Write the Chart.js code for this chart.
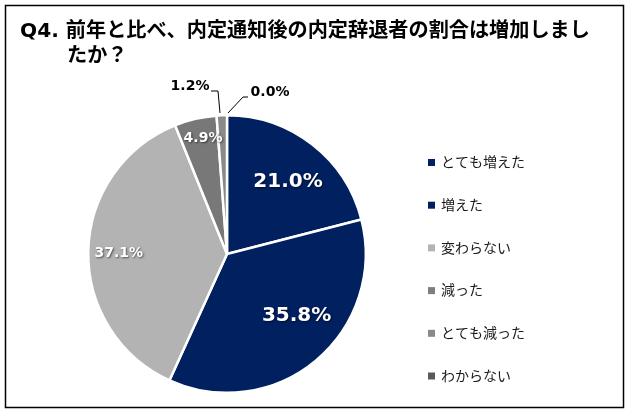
<!DOCTYPE html>
<html>
<head>
<meta charset="utf-8">
<script src="https://cdn.jsdelivr.net/npm/chart.js@4"></script>
<style>
  html, body { margin: 0; padding: 0; background: #fff; }
  canvas { display: block; }
</style>
</head>
<body>
<canvas id="pieChart" width="631" height="416"></canvas>
<script>
const titleLines = ['Q4. 前年と比べ、内定通知後の内定辞退者の割合は増加しまし', 'たか？'];
const categories = ['とても増えた', '増えた', '変わらない', '減った', 'とても減った', 'わからない'];
const shares = [21.0, 35.8, 37.1, 4.9, 1.2, 0.0];
const sliceColors = ['#002060', '#002060', '#b3b3b3', '#787878', '#8a8a8a', '#595959'];
const legendColors = ['#002060', '#002060', '#b3b3b3', '#7f7f7f', '#8a8a8a', '#595959'];

const latin = '"DejaVu Sans", "Noto Sans CJK JP", sans-serif';
const jp = '"Noto Sans CJK JP", sans-serif';

// label placement per slice: inside (fraction of radius + angle tweak) or outside with leader line
const labelStyle = [
  { inside: true, r: 0.68, da: 2.5, size: 20 },
  { inside: true, r: 0.67, da: -8.5, size: 20 },
  { inside: true, r: 0.78, da: -0.7, size: 14 },
  { inside: true, r: 0.85, da: 1.4, size: 14 },
  { inside: false, tx: -37, ty: -168, line: [[211, 91], [218, 91], [220, 113]] },
  { inside: false, tx: 43, ty: -162, line: [[248, 97], [243, 97], [228, 113]] }
];

const decorations = {
  id: 'decorations',
  afterDraw(chart) {
    const ctx = chart.ctx;
    ctx.save();
    // frame
    ctx.strokeStyle = '#000';
    ctx.lineWidth = 1.5;
    ctx.strokeRect(5.5, 5.5, 618, 402);

    // title, sized so the first line runs from x=20 to x=590
    ctx.fillStyle = '#000';
    ctx.textBaseline = 'middle';
    ctx.textAlign = 'left';
    ctx.font = 'bold 20px ' + latin;
    let size = 20 * 570 / ctx.measureText(titleLines[0]).width;
    ctx.font = 'bold ' + size.toFixed(2) + 'px ' + latin;
    ctx.fillText(titleLines[0], 20, 32);
    ctx.fillText(titleLines[1], 67, 57);

    // data labels
    const meta = chart.getDatasetMeta(0);
    meta.data.forEach((arc, i) => {
      const st = labelStyle[i];
      const text = shares[i].toFixed(1) + '%';
      ctx.textAlign = 'center';
      ctx.textBaseline = 'middle';
      if (st.inside) {
        const mid = (arc.startAngle + arc.endAngle) / 2 + st.da * Math.PI / 180;
        const rr = arc.outerRadius * st.r;
        const x = arc.x + Math.cos(mid) * rr;
        const y = arc.y + Math.sin(mid) * rr;
        ctx.font = 'bold ' + st.size + 'px ' + latin;
        ctx.shadowColor = 'rgba(0,0,0,0.55)';
        ctx.shadowBlur = 2;
        ctx.shadowOffsetX = 1;
        ctx.shadowOffsetY = 1;
        ctx.fillStyle = '#fff';
        ctx.fillText(text, x, y);
        ctx.shadowColor = 'transparent';
      } else {
        ctx.strokeStyle = '#000';
        ctx.lineWidth = 1;
        ctx.beginPath();
        st.line.forEach((p, k) => k ? ctx.lineTo(p[0], p[1]) : ctx.moveTo(p[0], p[1]));
        ctx.stroke();
        ctx.font = 'bold 14px ' + latin;
        ctx.fillStyle = '#000';
        ctx.fillText(text, arc.x + st.tx, arc.y + st.ty);
      }
    });

    // legend
    ctx.textAlign = 'left';
    ctx.textBaseline = 'middle';
    ctx.font = '14px ' + jp;
    categories.forEach((c, i) => {
      const y = 162 + i * 42.7;
      ctx.fillStyle = legendColors[i];
      ctx.fillRect(428, y - 3, 7, 7);
      ctx.fillStyle = '#1a1a1a';
      ctx.fillText(c, 441, y);
    });
    ctx.restore();
  }
};

new Chart(document.getElementById('pieChart').getContext('2d'), {
  type: 'pie',
  data: {
    labels: categories,
    datasets: [{
      data: shares,
      backgroundColor: sliceColors,
      borderColor: '#fff',
      borderWidth: 2.5
    }]
  },
  options: {
    responsive: false,
    animation: false,
    layout: { padding: { left: 87, right: 264, top: 114, bottom: 22 } },
    plugins: {
      legend: { display: false },
      tooltip: { enabled: false },
      title: { display: false }
    }
  },
  plugins: [decorations]
});
</script>
</body>
</html>
